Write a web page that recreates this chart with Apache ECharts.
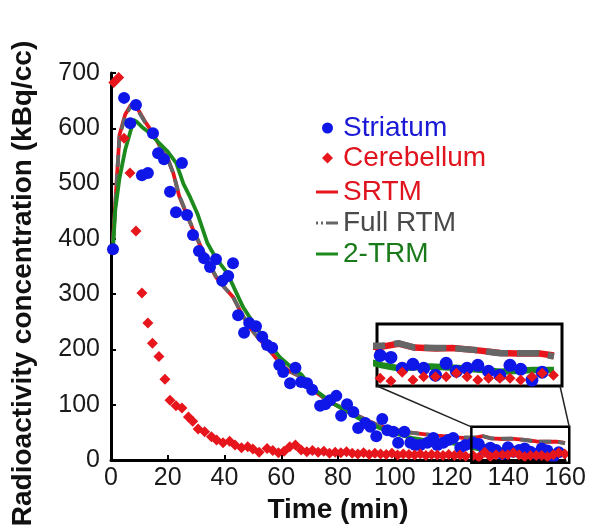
<!DOCTYPE html>
<html><head><meta charset="utf-8">
<script src="https://cdn.jsdelivr.net/npm/echarts@6/dist/echarts.min.js"></script>
<style>html,body{margin:0;padding:0;background:#fff}#c{width:590px;height:531px}</style>
</head><body><div id="c"></div>
<script>
// ---- data ----
const xTickValues = [0, 20, 40, 60, 80, 100, 120, 140, 160];
const yTickValues = [0, 100, 200, 300, 400, 500, 600, 700];

const striatumTime = [0.7, 4.6, 6.8, 8.8, 10.9, 13, 14.8, 16.6, 18.7, 20.8, 22.9, 25, 26.8, 28.9, 31, 32.8, 34.9, 37, 39.2, 41.3, 43, 44.8, 46.9, 48.7, 51.1, 53.3, 55, 56.8, 59.3, 60.7, 63.1, 65, 67, 69.1, 70.9, 73.7, 75.5, 77.2, 79.4, 81.1, 83.2, 85.4, 87.1, 89.6, 91.4, 93.5, 95.6, 97.4, 99.5, 101.2, 103.4, 105.5, 107.2, 109, 111.5, 113.6, 115, 117.1, 118.9, 120.6, 123.1, 124.9, 127.6, 129.6, 131.7, 133.7, 135.7, 137.9, 139.9, 141.8, 143.8, 145.8, 147.8, 149.9, 151.8, 153.8, 155.9, 157.8];
const striatumValue = [381, 655, 609, 642, 515, 519, 591, 555, 544, 485, 448, 537, 443, 407, 378, 365, 349, 363, 324, 333, 356, 262, 230, 248, 242, 223, 208, 203, 172, 159, 139, 167, 141, 139, 127, 98, 101, 108, 116, 80, 101, 87, 58, 67, 60, 43, 74, 54, 51, 31, 51, 31, 27, 27, 31, 40, 27, 31, 36, 40, 22, 27, 31, 29, 18, 22, 18, 11, 23, 15, 18, 21, 15, 11, 21, 17, 6, 14];

const cerebellumTime = [1, 2.7, 4.6, 6.7, 8.8, 10.9, 13, 14.6, 16.9, 19, 20.8, 22.9, 25, 27.3, 28.8, 30.7, 33, 35.4, 37.2, 39.5, 41.8, 43.7, 46, 48.2, 50, 52.2, 55, 57, 59, 61, 63, 65, 67, 69, 71, 73, 75, 77, 79, 81, 83, 85, 87, 89, 91, 93, 95, 97, 99, 101, 103, 105, 107, 109, 111, 113, 115, 117, 119, 121, 123, 125, 127.6, 129.6, 131.7, 133.7, 135.7, 137.9, 139.9, 141.8, 143.8, 145.8, 147.8, 149.9, 151.8, 153.8, 155.9, 157.8, 159.9];
const cerebellumValue = [683, 692, 582, 519, 414, 302, 248, 211, 187, 146, 108, 98, 94, 78, 70, 56, 51, 42, 36, 31, 34, 27, 22, 24, 20, 14, 21, 17, 13, 16, 24, 27, 18, 15, 17, 14, 16, 12, 14, 13, 15, 12, 11, 13, 10, 12, 11, 10, 12, 9, 11, 10, 9, 11, 8, 10, 9, 8, 10, 8, 9, 7, 8, 5, 14, 6, 9.5, 9.5, 9.5, 13, 9.5, 6, 8, 8, 8, 6, 9.5, 13, 11];

const srtmTime = [0.7, 3, 5, 7, 8, 10, 12, 14, 17, 20, 22, 24, 27, 30, 34, 37, 40, 43, 46, 49, 52, 55, 58, 61, 63, 67, 71, 75, 79, 83, 87, 91, 95, 100, 105, 110, 115, 120, 124, 128, 131, 134, 138, 141, 145, 150, 153, 157, 160];
const srtmValue = [395, 588, 625, 642, 645, 630, 612, 597, 570, 545, 518, 478, 440, 404, 360, 331, 312, 295, 265, 239, 220, 204, 185, 168, 160, 150, 127, 112, 100, 90, 80, 70, 61, 55, 50, 47, 44, 42, 40, 40, 43, 39, 38, 38.5, 36.7, 33.5, 33, 33.3, 31];
const fullRtmValue = [393, 585, 622, 640, 643, 628, 611, 596, 569, 545, 518, 479, 441, 405, 361, 332, 312, 295, 265, 240, 220, 204, 186, 169, 161, 150, 128, 113, 101, 90, 80, 70, 61, 55, 50, 47, 44, 42, 41, 41, 43.5, 39, 38.5, 38.5, 36.7, 33.3, 33.3, 33.3, 30];

const trmTime = [0.7, 1.5, 3, 5, 8, 9, 11, 14, 17, 20, 23, 25.5, 28, 30.5, 34, 37, 41, 43.5, 46.5, 49.5, 52.5, 56, 59.5, 63, 67, 71, 75, 79, 83, 87, 91, 95, 100, 106, 112, 118, 124, 128, 131, 137, 143, 150, 156, 160];
const trmValue = [380, 452, 510, 561, 615, 612, 602, 590, 573, 558, 537, 500, 474, 445, 392, 365, 338, 310, 277, 253, 230, 208, 186, 170, 155, 130, 115, 100, 88, 76, 66, 57, 48, 40, 35, 32, 27, 21, 18, 19.7, 18, 14.6, 16.3, 16.3];

// zoomed window shown in the inset
const zoomTimeRange = [127, 161.5];
const zoomValueRange = [-5, 60];
const insetValueRange = [0, 63];

// ---- chart ----
function pairs(t, v) { return t.map((x, i) => [x, v[i]]); }
const FONT = '"Liberation Sans", Arial, sans-serif';
const BLUE = '#0f17e8', RED = '#e6161c', GRAY = '#666666', GREEN = '#1c8a1c';

const chart = echarts.init(document.getElementById('c'), null, { renderer: 'canvas' });

const mainGrid = { left: 111, top: 73, width: 454, height: 387 };
const insetGrid = { left: 377, top: 324, width: 185, height: 62 };

function lineSeries(name, t, v, color, width, dash, axis) {
  return {
    name, type: 'line', data: pairs(t, v), xAxisIndex: axis, yAxisIndex: axis,
    showSymbol: false, symbol: 'none', smooth: false, clip: true,
    lineStyle: { color, width, type: dash || 'solid', cap: 'butt' },
    itemStyle: { color }, z: axis === 0 ? 2 : 6
  };
}
function scatterSeries(name, t, v, color, symbol, size, axis) {
  return {
    name, type: 'scatter', data: pairs(t, v), xAxisIndex: axis, yAxisIndex: axis,
    symbol, symbolSize: size, itemStyle: { color, opacity: 1 }, clip: true, z: axis === 0 ? 3 : 7
  };
}

const series = [];
[0, 1].forEach(ax => {
  const w = ax === 0 ? 3.8 : 6.5;
  const dash = ax === 0 ? [12, 7] : [22, 9];
  series.push(lineSeries('SRTM', srtmTime, srtmValue, RED, w, null, ax));
  series.push(lineSeries('Full RTM', srtmTime, fullRtmValue, GRAY, w, dash, ax));
  series.push(lineSeries('2-TRM', trmTime, trmValue, GREEN, w, null, ax));
  series.push(scatterSeries('Striatum', striatumTime, striatumValue, BLUE, 'circle', ax === 0 ? 12 : 13, ax));
  series.push(scatterSeries('Cerebellum', cerebellumTime, cerebellumValue, RED, 'diamond', 11, ax));
});

const axisLine = { show: true, lineStyle: { color: '#000', width: 3 } };
const axisTick = { show: true, inside: true, length: 5, lineStyle: { color: '#000', width: 2 } };
const legendText = { fontSize: 28, fontFamily: FONT };

chart.setOption({
  animation: false,
  backgroundColor: '#fff',
  grid: [
    Object.assign({ show: false }, mainGrid),
    Object.assign({ show: true, borderColor: '#000', borderWidth: 3, backgroundColor: '#fff', z: 4 }, insetGrid)
  ],
  xAxis: [
    {
      type: 'value', gridIndex: 0, min: xTickValues[0], max: xTickValues[xTickValues.length - 1],
      interval: xTickValues[1] - xTickValues[0],
      axisLine, axisTick, splitLine: { show: false },
      axisLabel: { fontSize: 25, color: '#1a1a1a', fontFamily: FONT, margin: 6 },
      name: 'Time (min)', nameLocation: 'middle', nameGap: 33,
      nameTextStyle: { fontSize: 28, fontWeight: 'bold', color: '#111', fontFamily: FONT }
    },
    { type: 'value', gridIndex: 1, min: zoomTimeRange[0], max: zoomTimeRange[1], show: false, splitLine: { show: false } }
  ],
  yAxis: [
    {
      type: 'value', gridIndex: 0, min: yTickValues[0], max: yTickValues[yTickValues.length - 1],
      interval: yTickValues[1] - yTickValues[0],
      axisLine, axisTick, splitLine: { show: false },
      axisLabel: { fontSize: 25, color: '#1a1a1a', fontFamily: FONT, margin: 11, padding: [0, 0, 14, 0] },
      name: 'Radioactivity concentration (kBq/cc)', nameLocation: 'middle', nameGap: 74, nameRotate: 90,
      nameTextStyle: { fontSize: 28, fontWeight: 'bold', color: '#111', fontFamily: FONT, padding: [0, 34, 0, 0] }
    },
    { type: 'value', gridIndex: 1, min: insetValueRange[0], max: insetValueRange[1], show: false, splitLine: { show: false } }
  ],
  legend: [
    {
      orient: 'vertical', left: 317, top: 109, itemWidth: 11, itemHeight: 11, itemGap: 2,
      selectedMode: false, textStyle: Object.assign({ padding: [0, 0, 0, 5] }, legendText),
      data: [
        { name: 'Striatum', icon: 'circle', textStyle: { color: '#1a1ad6' } },
        { name: 'Cerebellum', icon: 'diamond', textStyle: { color: '#e0141e' } }
      ]
    },
    {
      orient: 'vertical', left: 311, top: 173, itemWidth: 22, itemHeight: 10, itemGap: 3,
      selectedMode: false, textStyle: legendText,
      data: [
        { name: 'SRTM', icon: 'path://M0,0h22v3h-22z', textStyle: { color: '#e0141e' } },
        { name: 'Full RTM', icon: 'path://M0,0h2v3h-2z M5,0h2v3h-2z M10,0h12v3h-12z', textStyle: { color: '#4a4a4a' } },
        { name: '2-TRM', icon: 'path://M0,0h22v3h-22z', textStyle: { color: '#1a7a1a' } }
      ]
    }
  ],
  series
});

// zoom-window box in the main plot and connector lines to the inset
const p1 = chart.convertToPixel({ gridIndex: 0 }, [zoomTimeRange[0], zoomValueRange[1]]);
const p2 = chart.convertToPixel({ gridIndex: 0 }, [zoomTimeRange[1], zoomValueRange[0]]);
const iL = insetGrid.left, iR = insetGrid.left + insetGrid.width, iB = insetGrid.top + insetGrid.height;
chart.setOption({
  graphic: [
    { type: 'rect', shape: { x: p1[0], y: p1[1], width: p2[0] - p1[0], height: p2[1] - p1[1] },
      style: { fill: null, stroke: '#000', lineWidth: 2.5 }, z: 10 },
    { type: 'line', shape: { x1: iL, y1: iB, x2: p1[0], y2: p1[1] }, style: { stroke: '#222', lineWidth: 1.5 }, z: 10 },
    { type: 'line', shape: { x1: iR - 2, y1: iB, x2: p2[0], y2: p1[1] }, style: { stroke: '#222', lineWidth: 1.5 }, z: 10 }
  ]
});
</script>
</body></html>
